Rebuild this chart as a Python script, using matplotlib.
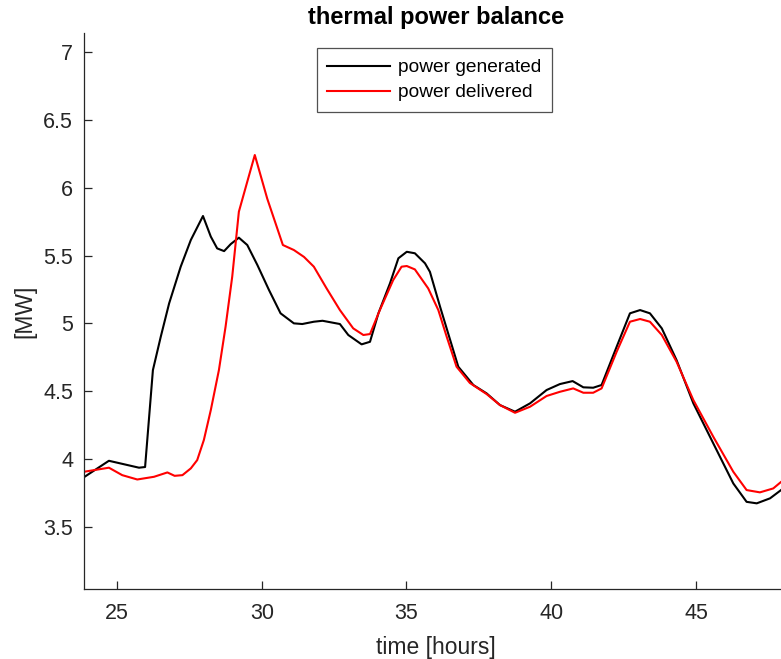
import matplotlib
matplotlib.use("Agg")
import matplotlib.pyplot as plt

plt.rcParams['font.family'] = ['Liberation Sans', 'DejaVu Sans']

# time axis [hours] and power [MW]
t_gen = [23.86, 24.72, 25.76, 25.97, 26.24, 26.51, 26.80, 27.20, 27.55, 27.97,
         28.24, 28.46, 28.70, 28.93, 29.21, 29.50, 29.85, 30.25, 30.65, 31.11,
         31.40, 31.80, 32.10, 32.70, 32.99, 33.45, 33.74, 34.03, 34.43, 34.72,
         35.01, 35.29, 35.64, 35.81, 36.16, 36.44, 36.79, 37.31, 37.77, 38.23,
         38.75, 39.27, 39.84, 40.30, 40.74, 41.11, 41.45, 41.74, 42.26, 42.72,
         43.07, 43.41, 43.82, 44.33, 44.91, 45.60, 46.29, 46.75, 47.10, 47.56,
         47.94, 48.20]
p_gen = [3.865, 3.986, 3.935, 3.94, 4.655, 4.90, 5.147, 5.418, 5.615, 5.792,
         5.64, 5.553, 5.533, 5.585, 5.632, 5.578, 5.43, 5.246, 5.074, 5.0,
         4.995, 5.012, 5.019, 4.995, 4.914, 4.845, 4.864, 5.074, 5.295, 5.48,
         5.528, 5.517, 5.443, 5.38, 5.123, 4.926, 4.68, 4.545, 4.483, 4.397,
         4.348, 4.41, 4.508, 4.552, 4.574, 4.528, 4.525, 4.545, 4.827, 5.074,
         5.098, 5.074, 4.963, 4.729, 4.41, 4.114, 3.819, 3.683, 3.672, 3.709,
         3.77, 3.82]

t_del = [23.86, 24.72, 25.18, 25.70, 26.28, 26.74, 26.99, 27.26, 27.55, 27.77,
         28.00, 28.24, 28.52, 28.75, 28.98, 29.21, 29.50, 29.76, 30.19, 30.73,
         31.11, 31.46, 31.80, 32.24, 32.70, 33.16, 33.51, 33.74, 34.08, 34.54,
         34.83, 35.01, 35.29, 35.75, 36.10, 36.39, 36.73, 37.19, 37.77, 38.23,
         38.75, 39.27, 39.84, 40.30, 40.76, 41.11, 41.45, 41.74, 42.26, 42.72,
         43.07, 43.41, 43.82, 44.33, 44.91, 45.60, 46.29, 46.75, 47.21, 47.67,
         47.94, 48.20]
p_del = [3.905, 3.935, 3.88, 3.848, 3.868, 3.90, 3.875, 3.88, 3.93, 3.991,
         4.139, 4.36, 4.655, 4.975, 5.344, 5.824, 6.045, 6.242, 5.92, 5.578,
         5.541, 5.49, 5.418, 5.258, 5.098, 4.963, 4.914, 4.921, 5.098, 5.319,
         5.418, 5.423, 5.398, 5.258, 5.098, 4.901, 4.68, 4.56, 4.478, 4.397,
         4.34, 4.385, 4.464, 4.495, 4.52, 4.488, 4.488, 4.52, 4.79, 5.012,
         5.032, 5.012, 4.914, 4.717, 4.434, 4.163, 3.905, 3.77, 3.753, 3.782,
         3.83, 3.87]

x_ticks = [25, 30, 35, 40, 45]
y_ticks = [3.5, 4, 4.5, 5, 5.5, 6, 6.5, 7]

W, H = 781, 659
fig = plt.figure(figsize=(W / 100, H / 100), dpi=100)
left, right, bottom, top = 84.3, 788, 589, 33.3
ax = fig.add_axes([left / W, (H - bottom) / H, (right - left) / W, (bottom - top) / H])

ax.plot(t_gen, p_gen, color='black', lw=1.5, label='power generated')
ax.plot(t_del, p_del, color='red', lw=1.5, label='power delivered')

ax.set_xlim(23.87, 48.18)
ax.set_ylim(3.04, 7.14)
ax.set_xticks(x_ticks)
ax.set_xticklabels([str(v) for v in x_ticks])
ax.set_yticks(y_ticks)
ax.set_yticklabels([f"{v:g}" for v in y_ticks])

grey = '#262626'
for s in ('top', 'right'):
    ax.spines[s].set_visible(False)
for s in ('left', 'bottom'):
    ax.spines[s].set_color(grey)
    ax.spines[s].set_linewidth(0.9)
ax.tick_params(direction='in', length=6, width=0.9, colors=grey, labelsize=15.5)
ax.tick_params(axis='x', pad=10)
ax.tick_params(axis='y', pad=8)

ax.set_xlabel('time [hours]', fontsize=16.5, color=grey, labelpad=9)
ax.set_ylabel('[MW]', fontsize=16.5, color=grey, labelpad=5)
ax.set_title('thermal power balance', fontsize=17, fontweight='bold', pad=7)

leg = ax.legend(loc='upper center', bbox_to_anchor=(0.4973, 0.973), fontsize=13.8,
                frameon=True, fancybox=False, edgecolor=grey, handlelength=3.3,
                borderpad=0.55, labelspacing=0.4, handletextpad=0.4,
                borderaxespad=0)
leg.get_frame().set_linewidth(0.9)

fig.savefig('out.png', dpi=100)
